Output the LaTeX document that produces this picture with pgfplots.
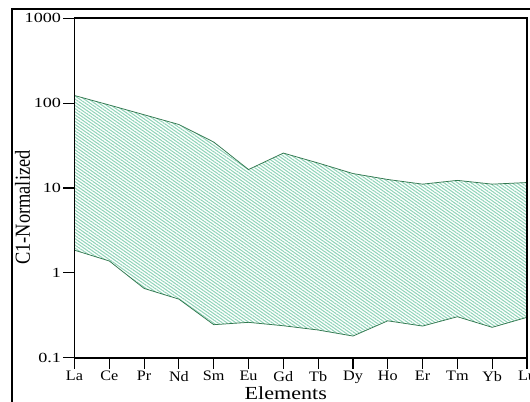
\documentclass[border=0pt]{standalone}
\usepackage{pgfplots}
\pgfplotsset{compat=1.18}
\usetikzlibrary{patterns.meta}
\usepackage{graphicx}
\usepackage{fontspec}
\setmainfont{Liberation Serif}
\newcommand{\yt}[1]{\scalebox{1.3}[1]{\fontsize{14}{15}\selectfont #1}}
\newcommand{\xt}[1]{\scalebox{1.12}[1]{\fontsize{14.5}{15}\selectfont #1}}
\definecolor{edge}{RGB}{50,120,80}
\definecolor{hatch}{RGB}{145,212,185}
\begin{document}
\begin{tikzpicture}
\clip (-74.5bp,-44.3bp) rectangle (455.5bp,357.7bp);
\draw[line width=1.4bp] (-62.5bp,-80bp) rectangle (480bp,348.7bp);
\begin{axis}[
  at={(0,0)}, anchor=south west,
  scale only axis, width=452.5bp, height=339.4bp,
  ymode=log, ymin=0.1, ymax=1000,
  xmin=0, xmax=13,
  xtick={0,...,13},
  xticklabels={\xt{La},\xt{Ce},\xt{Pr},\xt{Nd},\xt{Sm},\xt{Eu},\xt{Gd},\xt{Tb},\xt{Dy},\xt{Ho},\xt{Er},\xt{Tm},\xt{Yb},\xt{Lu}},
  ytick={0.1,1,10,100,1000},
  yticklabels={\yt{0.1},\yt{1},\yt{10},\yt{100},\yt{1000}},
  minor tick num=0,
  minor tick style={draw=none},
  tick align=outside, tick pos=left,
  major tick length=11bp,
  tick style={black, line width=1.1bp},
  axis line style={line width=1.7bp},
  xticklabel style={yshift=1bp},
  yticklabel style={xshift=1bp},
  xlabel={\scalebox{1.2}[1]{Elements}},
  ylabel={\scalebox{0.86}[1]{C1-Normalized}},
  xlabel style={font=\fontsize{18.5}{20}\selectfont, at={(axis description cs:0.467,-0.104)}, anchor=center},
  ylabel style={font=\fontsize{21.5}{22}\selectfont, at={(axis description cs:-0.115,0.4425)}, anchor=center},
  clip=false,
  axis on top,
]
\addplot[draw=none, pattern={Lines[angle=-35,distance=2.6bp,line width=1.05bp]}, pattern color=hatch] coordinates {
(0,123) (1,95) (2,73) (3,56) (4,34.8) (5,16.5) (6,25.8) (7,19.7) (8,14.8) (9,12.6) (10,11.1) (11,12.3) (12,11.1) (13,11.6)
(13,0.299) (12,0.228) (11,0.304) (10,0.236) (9,0.272) (8,0.18) (7,0.212) (6,0.238) (5,0.261) (4,0.245) (3,0.49) (2,0.655) (1,1.38) (0,1.85)} -- cycle;
\addplot[color=edge, line width=0.75bp] coordinates {
(0,123) (1,95) (2,73) (3,56) (4,34.8) (5,16.5) (6,25.8) (7,19.7) (8,14.8) (9,12.6) (10,11.1) (11,12.3) (12,11.1) (13,11.6)};
\addplot[color=edge, line width=0.75bp] coordinates {
(0,1.85) (1,1.38) (2,0.655) (3,0.49) (4,0.245) (5,0.261) (6,0.238) (7,0.212) (8,0.18) (9,0.272) (10,0.236) (11,0.304) (12,0.228) (13,0.299)};
\end{axis}
\end{tikzpicture}
\end{document}
